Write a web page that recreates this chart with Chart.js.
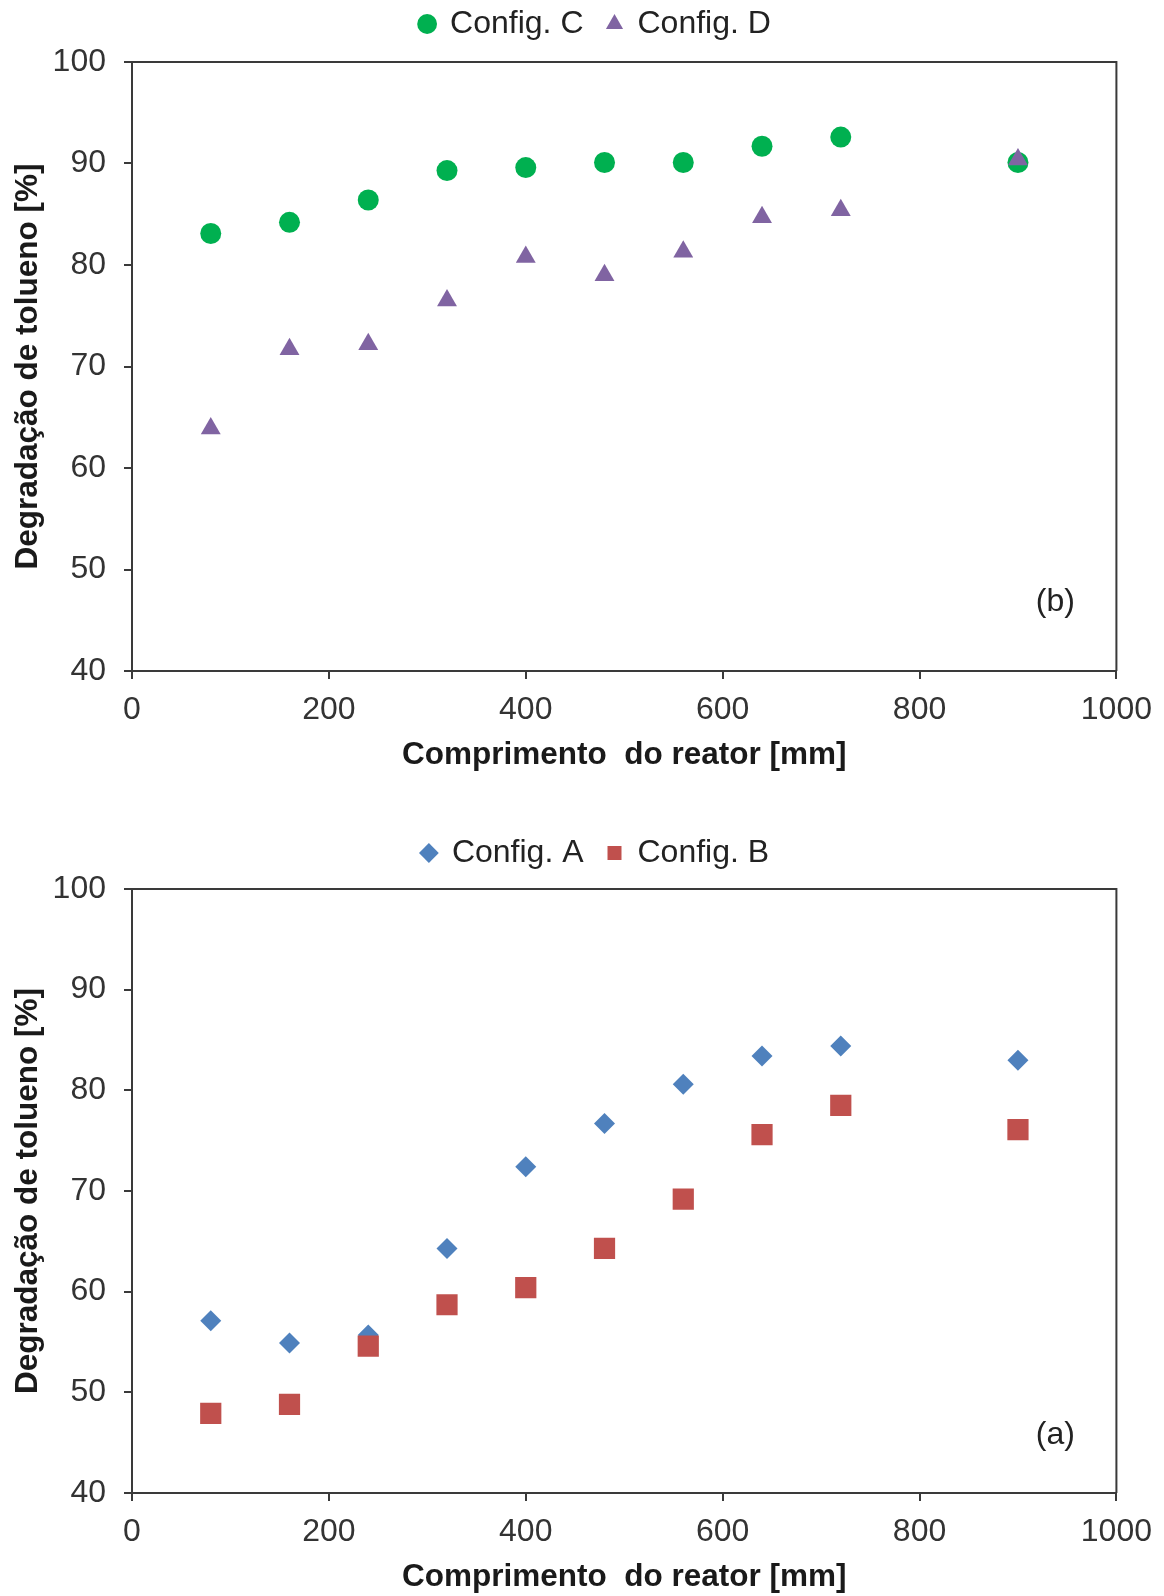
<!DOCTYPE html>
<html>
<head>
<meta charset="utf-8">
<title>Degradação de tolueno</title>
<script src="https://cdn.jsdelivr.net/npm/chart.js@4.4.1/dist/chart.umd.min.js"></script>
<style>
  body { margin: 0; background: #fff; }
  .panel { position: absolute; left: 0; }
  #panelB { top: 0; }
  #panelA { top: 829px; }
</style>
</head>
<body>
<div class="panel" id="panelB"><canvas id="chartB" width="1164" height="774"></canvas></div>
<div class="panel" id="panelA"><canvas id="chartA" width="1164" height="767"></canvas></div>
<script>
// comprimento do reator [mm]
const comprimento = [80, 160, 240, 320, 400, 480, 560, 640, 720, 900];

// degradação [%] por configuração
const configA = [57.1, 54.9, 55.7, 64.3, 72.4, 76.7, 80.6, 83.4, 84.4, 83.0];
const configB = [47.9, 48.8, 54.6, 58.7, 60.4, 64.3, 69.2, 75.6, 78.5, 76.1];
const configC = [83.1, 84.2, 86.4, 89.3, 89.6, 90.1, 90.1, 91.7, 92.6, 90.1];
const configD = [63.9, 71.7, 72.2, 76.5, 80.8, 79.0, 81.3, 84.7, 85.4, 90.4];

const xTickValues = [0, 200, 400, 600, 800, 1000];
const yTickValues = [40, 50, 60, 70, 80, 90, 100];

const FONT = "'Liberation Sans', Arial, sans-serif";
const AXIS_COLOR = '#3a3a3a';

function pts(ys) {
  return comprimento.map((x, i) => ({ x: x, y: ys[i] }));
}

// legend box: change its reserved height, then nudge it up and right
function legendPlacement(extra, lift, shift) {
  return {
    id: 'legendPlacement',
    beforeInit(chart) {
      const fit = chart.legend.fit;
      chart.legend.fit = function () {
        fit.call(this);
        this.height += extra;
      };
    },
    afterLayout(chart) {
      const lg = chart.legend;
      lg.top -= lift;
      lg.bottom -= lift;
      lg.left += shift;
      lg.right += shift;
    }
  };
}

// closes the plot box and writes the panel tag
function frameAndTag(tag, dx, dy) {
  return {
    id: 'frameAndTag',
    beforeDatasetsDraw(chart) {
      const { ctx, chartArea: a } = chart;
      ctx.save();
      ctx.strokeStyle = AXIS_COLOR;
      ctx.lineWidth = 2;
      ctx.beginPath();
      ctx.moveTo(a.left, a.top);
      ctx.lineTo(a.right, a.top);
      ctx.lineTo(a.right, a.bottom);
      ctx.stroke();
      ctx.fillStyle = '#222';
      ctx.font = '32px ' + FONT;
      ctx.textAlign = 'center';
      ctx.textBaseline = 'middle';
      ctx.fillText(tag, a.right - dx, a.bottom - dy);
      ctx.restore();
    }
  };
}

function makeChart(id, datasets, tag, tagDy, extra) {
  return new Chart(document.getElementById(id), {
    type: 'scatter',
    data: { datasets: datasets },
    options: {
      responsive: false,
      animation: false,
      layout: { padding: { left: 0, right: 45, top: 0, bottom: 0 } },
      plugins: {
        tooltip: { enabled: false },
        legend: {
          position: 'top',
          labels: {
            usePointStyle: true,
            boxWidth: 14,
            boxHeight: 14,
            padding: 24,
            color: '#222',
            font: { family: FONT, size: 32 },
            sort: (a, b) => a.datasetIndex - b.datasetIndex
          }
        }
      },
      scales: {
        x: {
          type: 'linear',
          min: 0,
          max: 1000,
          afterBuildTicks: s => { s.ticks = xTickValues.map(v => ({ value: v })); },
          afterFit: s => { s.height = 103; },
          border: { display: true, color: AXIS_COLOR, width: 2 },
          grid: { drawOnChartArea: false, drawTicks: true, tickLength: 8, color: AXIS_COLOR, lineWidth: 2 },
          ticks: { padding: 12, color: '#333', font: { family: FONT, size: 32 }, callback: v => String(v) },
          title: {
            display: true,
            text: 'Comprimento  do reator [mm]',
            color: '#1a1a1a',
            font: { family: FONT, size: 31.5, weight: 'bold' },
            padding: { top: 0, bottom: 0 }
          }
        },
        y: {
          type: 'linear',
          min: 40,
          max: 100,
          afterBuildTicks: s => { s.ticks = yTickValues.map(v => ({ value: v })); },
          afterFit: s => { s.width = 132; },
          border: { display: true, color: AXIS_COLOR, width: 2 },
          grid: { drawOnChartArea: false, drawTicks: true, tickLength: 8, color: AXIS_COLOR, lineWidth: 2 },
          ticks: { padding: 18, color: '#333', font: { family: FONT, size: 32 }, callback: v => String(v) },
          title: {
            display: true,
            text: 'Degradação de tolueno [%]',
            color: '#1a1a1a',
            font: { family: FONT, size: 31.5, weight: 'bold' },
            padding: { top: 9, bottom: 0 }
          }
        }
      }
    },
    plugins: [legendPlacement(extra, 16, 36), frameAndTag(tag, 61, tagDy)]
  });
}

makeChart('chartB', [
  {
    label: 'Config. C',
    data: pts(configC),
    pointStyle: 'circle',
    pointRadius: 10.5,
    backgroundColor: '#00b050',
    borderColor: '#00b050',
    borderWidth: 0,
    order: 1
  },
  {
    label: 'Config. D',
    data: pts(configD),
    pointStyle: 'triangle',
    pointRadius: 11.5,
    backgroundColor: '#8064a2',
    borderColor: '#8064a2',
    borderWidth: 0,
    order: 0
  }
], '(b)', 69, -4);

makeChart('chartA', [
  {
    label: 'Config. A',
    data: pts(configA),
    pointStyle: 'rectRot',
    pointRadius: 10.5,
    backgroundColor: '#4f81bd',
    borderColor: '#4f81bd',
    borderWidth: 0,
    order: 1
  },
  {
    label: 'Config. B',
    data: pts(configB),
    pointStyle: 'rect',
    pointRadius: 15,
    backgroundColor: '#c0504d',
    borderColor: '#c0504d',
    borderWidth: 0,
    order: 0
  }
], '(a)', 58, -6);
</script>
</body>
</html>
